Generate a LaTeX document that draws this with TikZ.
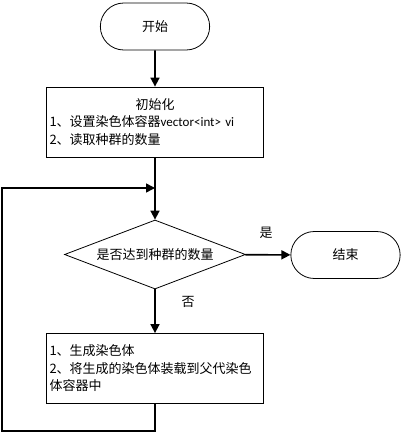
\documentclass[tikz,border=0pt]{standalone}
\usepackage{fontspec}
\setmainfont{Noto Sans CJK SC}
\newfontfamily\latfont{Carlito}
\usetikzlibrary{shapes.geometric,shapes.misc,arrows.meta}
\tikzset{
    terminal/.style={rounded rectangle, draw, line width=0.8pt, minimum width=116pt, minimum height=47pt},
    procbox/.style={rectangle, draw, line width=0.8pt, minimum width=217pt, minimum height=70pt, text width=211pt, inner sep=3pt, align=left},
    decision/.style={diamond, draw, line width=0.8pt, minimum width=181pt, minimum height=69pt, inner sep=0pt, aspect=2.6},
    flow/.style={line width=1.6pt, -{Triangle[length=9pt,width=9pt]}},
}

\begin{document}
\begin{tikzpicture}[x=1pt, y=-1pt, font=\fontsize{13}{17.5}\selectfont]
            \useasboundingbox (0,0) rectangle (411,434);
            \node[terminal] (start) at (155,26.5) {开始};
            \node[procbox] (init) at (155,122) {\makebox[\linewidth]{初始化}\\1、设置染色体容器{\latfont vector<int> vi}\\2、读取种群的数量};
            \coordinate (merge) at (155,188);
            \node[decision] (check) at (155,254.5) {是否达到种群的数量};
            \node[terminal] (stop) at (345.5,255) {结束};
            \node[procbox] (gen) at (155,368.5) {1、生成染色体\\2、将生成的染色体装载到父代染色\\体容器中};
            \coordinate (back) at (2,431);
            \node (yes) at (266,233) {是};
            \node (no) at (188,302) {否};
            \draw[flow] (start) -- (init);
            \draw[flow] (init) -- (check);
            \draw[flow] (check) -- (stop);
            \draw[flow] (check) -- (gen);
            \draw[flow] (gen.south) |- (back) |- (merge);
        \end{tikzpicture}
\end{document}
